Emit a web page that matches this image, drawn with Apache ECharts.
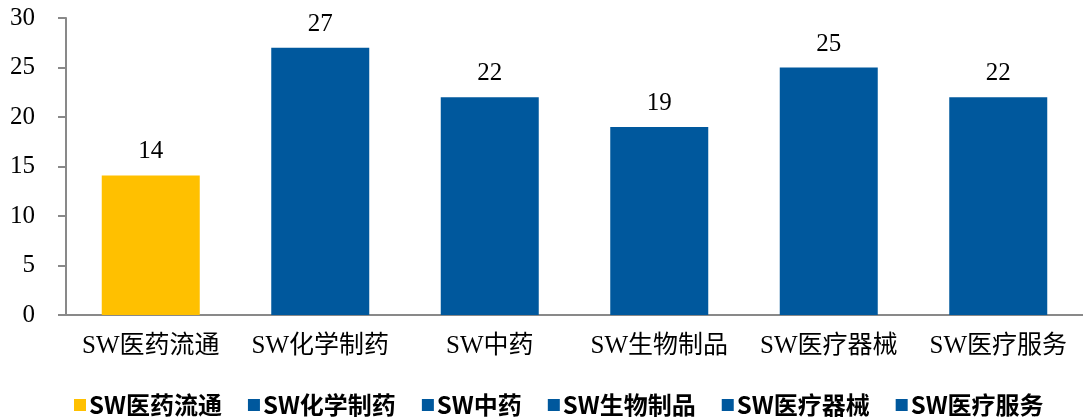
<!DOCTYPE html>
<html>
<head>
<meta charset="utf-8">
<script src="https://cdn.jsdelivr.net/npm/echarts@6/dist/echarts.min.js"></script>
<style>
html, body { margin: 0; padding: 0; background: #fff; }
#chart { width: 1083px; height: 419px; }
</style>
</head>
<body>
<div id="chart"></div>
<script>
var categories = ['SW医药流通', 'SW化学制药', 'SW中药', 'SW生物制品', 'SW医疗器械', 'SW医疗服务'];
var values = [14.1, 27, 22, 19, 25, 22];
var labels = ['14', '27', '22', '19', '25', '22'];
var colors = ['#FFC000', '#00589D', '#00589D', '#00589D', '#00589D', '#00589D'];
var yTicks = [0, 5, 10, 15, 20, 25, 30];

var serif = '"Times New Roman", "Liberation Serif", "Noto Sans CJK SC", serif';

//每个行业单独一个系列, 这样图例能逐个显示
var series = categories.map(function (name, i) {
    var data = categories.map(function (c, j) {
        return j === i ? values[i] : '-';
    });
    return {
        name: name,
        type: 'bar',
        stack: 'all',
        barWidth: 98,
        data: data,
        itemStyle: { color: colors[i] },
        label: {
            show: true,
            position: 'top',
            distance: 11,
            color: '#000',
            fontFamily: serif,
            fontSize: 25,
            formatter: function () { return labels[i]; }
        }
    };
});

var chart = echarts.init(document.getElementById('chart'));
chart.setOption({
    animation: false,
    grid: { left: 66, top: 18, width: 1026, bottom: 104 },
    legend: {
        left: 74,
        top: 393,
        padding: 0,
        itemWidth: 12,
        itemHeight: 12,
        itemGap: 26,
        icon: 'rect',
        textStyle: {
            fontFamily: '"Noto Sans CJK SC", sans-serif',
            fontWeight: 'bold',
            fontSize: 24,
            color: '#000',
            padding: [0, 0, 0, -2]
        },
        data: categories
    },
    xAxis: {
        type: 'category',
        data: categories,
        axisLine: { lineStyle: { color: '#898989', width: 2 } },
        axisTick: { show: false },
        axisLabel: {
            color: '#000',
            fontFamily: serif,
            fontSize: 25,
            margin: 19,
            interval: 0
        }
    },
    yAxis: {
        type: 'value',
        min: yTicks[0],
        max: yTicks[yTicks.length - 1],
        interval: 5,
        splitLine: { show: false },
        axisLine: { show: true, lineStyle: { color: '#898989', width: 2 } },
        axisTick: { show: true, length: 8, lineStyle: { color: '#898989', width: 2 } },
        axisLabel: {
            color: '#000',
            fontFamily: serif,
            fontSize: 25,
            margin: 31
        }
    },
    series: series
});
</script>
</body>
</html>
